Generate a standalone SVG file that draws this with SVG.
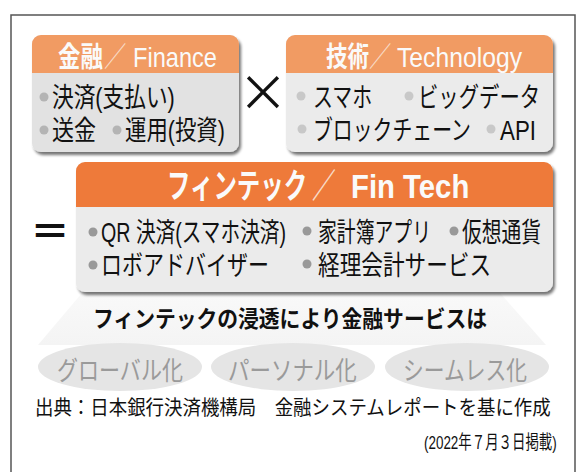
<svg xmlns="http://www.w3.org/2000/svg" width="588" height="472" viewBox="0 0 588 472">
<defs>
<filter id="sh" x="-5%" y="-5%" width="115%" height="120%">
<feGaussianBlur in="SourceAlpha" stdDeviation="1.5"/>
<feOffset dx="2" dy="3" result="b"/>
<feComponentTransfer><feFuncA type="linear" slope="0.55"/></feComponentTransfer>
<feMerge><feMergeNode/><feMergeNode in="SourceGraphic"/></feMerge>
</filter>
<linearGradient id="fan" x1="0" y1="0" x2="0" y2="1">
<stop offset="0" stop-color="#f9f9f9"/>
<stop offset="1" stop-color="#f4f4f4"/>
</linearGradient>
<clipPath id="c1"><rect x="32" y="35" width="207" height="117" rx="9"/></clipPath>
<clipPath id="c2"><rect x="286" y="35" width="267" height="117" rx="9"/></clipPath>
<clipPath id="c3"><rect x="76" y="162" width="477" height="130" rx="9"/></clipPath>
</defs>
<style>
text{font-family:"Liberation Sans","Noto Sans CJK JP",sans-serif;}
.op{font-family:"Noto Sans CJK JP",sans-serif;fill:#111;}
.hd{fill:#fafafa;font-size:28px;}
.hd2{fill:#fafafa;font-size:34px;font-weight:bold;}
.b{font-weight:bold;}
.sl{fill:#f8dcc8;}
.it{fill:#111;font-size:27px;}
.bl1{fill:#b4b4b4;}
.bl2{fill:#c8c8c8;}
.bl3{fill:#999;}
.oval{fill:#e5e5e5;}
.ot{fill:#9a9a9a;font-size:26px;}
</style>
<rect width="588" height="472" fill="#fff"/>
<path d="M11,480 V15 H575 V480" fill="none" stroke="#555" stroke-width="1.5"/>

<g id="connectors">
<polygon points="82,293 500,293 546,345 38,345" fill="url(#fan)"/>
</g>

<g id="finance">
<rect x="32" y="35" width="207" height="117" rx="9" fill="#e2e2e2" filter="url(#sh)"/>
<rect x="32" y="35" width="207" height="38" fill="#f19b63" clip-path="url(#c1)"/>
<text class="hd b" transform="translate(58,67) scale(0.8,1)" textLength="56" lengthAdjust="spacingAndGlyphs">金融</text>
<text class="hd sl" transform="translate(104,67) scale(0.8,1)" textLength="28" lengthAdjust="spacingAndGlyphs">／</text>
<text class="hd" transform="translate(133,67) scale(0.87,1)" textLength="96.5" lengthAdjust="spacingAndGlyphs">Finance</text>
<circle class="bl1" cx="44" cy="97" r="4.5"/>
<text class="it" transform="translate(52,107) scale(0.74,1)" textLength="166" lengthAdjust="spacingAndGlyphs">決済(支払い)</text>
<circle class="bl1" cx="44" cy="130" r="4.5"/>
<text class="it" transform="translate(52,140) scale(0.74,1)" textLength="59.5" lengthAdjust="spacingAndGlyphs">送金</text>
<circle class="bl1" cx="117" cy="130" r="4.5"/>
<text class="it" transform="translate(125,140) scale(0.74,1)" textLength="135" lengthAdjust="spacingAndGlyphs">運用(投資)</text>
</g>

<g id="times">
<text class="op" x="263" y="111" font-size="50" text-anchor="middle">×</text>
</g>

<g id="technology">
<rect x="286" y="35" width="267" height="117" rx="9" fill="#ebebeb" filter="url(#sh)"/>
<rect x="286" y="35" width="267" height="38" fill="#f19b63" clip-path="url(#c2)"/>
<text class="hd b" transform="translate(326,67) scale(0.77,1)" textLength="56" lengthAdjust="spacingAndGlyphs">技術</text>
<text class="hd sl" transform="translate(369,67) scale(0.8,1)" textLength="28" lengthAdjust="spacingAndGlyphs">／</text>
<text class="hd" transform="translate(397,67) scale(0.87,1)" textLength="143.7" lengthAdjust="spacingAndGlyphs">Technology</text>
<circle class="bl2" cx="301" cy="96" r="4.5"/>
<text class="it" transform="translate(313,107) scale(0.74,1)" textLength="80" lengthAdjust="spacingAndGlyphs">スマホ</text>
<circle class="bl2" cx="409" cy="96" r="4.5"/>
<text class="it" transform="translate(418,107) scale(0.74,1)" textLength="165" lengthAdjust="spacingAndGlyphs">ビッグデータ</text>
<circle class="bl2" cx="302" cy="129" r="4.5"/>
<text class="it" transform="translate(313,140) scale(0.74,1)" textLength="213.5" lengthAdjust="spacingAndGlyphs">ブロックチェーン</text>
<circle class="bl2" cx="491" cy="129" r="4.5"/>
<text class="it" transform="translate(500,140) scale(0.74,1)" textLength="48.6" lengthAdjust="spacingAndGlyphs">API</text>
</g>

<g id="equals">
<text class="op" x="50" y="246" font-size="40" font-weight="bold" text-anchor="middle">＝</text>
</g>

<g id="fintech">
<rect x="76" y="162" width="477" height="130" rx="9" fill="#ebebeb" filter="url(#sh)"/>
<rect x="76" y="162" width="477" height="45" fill="#ee7a3a" clip-path="url(#c3)"/>
<text class="hd2" transform="translate(167,198) scale(0.69,1)" textLength="203" lengthAdjust="spacingAndGlyphs">フィンテック</text>
<text class="hd2 sl" font-weight="normal" transform="translate(312,198) scale(0.7,1)" textLength="34" lengthAdjust="spacingAndGlyphs">／</text>
<text class="hd2" transform="translate(351,198) scale(0.91,1)" textLength="130" lengthAdjust="spacingAndGlyphs">Fin Tech</text>
<circle class="bl3" cx="93" cy="232" r="4.5"/>
<text class="it" transform="translate(101,242) scale(0.74,1)" textLength="250" lengthAdjust="spacingAndGlyphs">QR 決済(スマホ決済)</text>
<circle class="bl3" cx="307" cy="231" r="4.5"/>
<text class="it" transform="translate(318,242) scale(0.74,1)" textLength="152.7" lengthAdjust="spacingAndGlyphs">家計簿アプリ</text>
<circle class="bl3" cx="454" cy="231" r="4.5"/>
<text class="it" transform="translate(462,242) scale(0.74,1)" textLength="106.8" lengthAdjust="spacingAndGlyphs">仮想通貨</text>
<circle class="bl3" cx="93" cy="265" r="4.5"/>
<text class="it" transform="translate(101,275) scale(0.74,1)" textLength="227" lengthAdjust="spacingAndGlyphs">ロボアドバイザー</text>
<circle class="bl3" cx="307" cy="264" r="4.5"/>
<text class="it" transform="translate(318,275) scale(0.74,1)" textLength="234" lengthAdjust="spacingAndGlyphs">経理会計サービス</text>
</g>

<g id="caption">
<text font-size="23" font-weight="bold" fill="#111" transform="translate(93,327) scale(0.9,1)" textLength="437.8" lengthAdjust="spacingAndGlyphs">フィンテックの浸透により金融サービスは</text>
</g>

<g id="global">
<ellipse class="oval" cx="120" cy="367" rx="82" ry="24"/>
<text class="ot" transform="translate(57,380) scale(0.81,1)" textLength="155.5" lengthAdjust="spacingAndGlyphs">グローバル化</text>
</g>
<g id="personal">
<ellipse class="oval" cx="293" cy="367" rx="82" ry="24"/>
<text class="ot" transform="translate(228,380) scale(0.81,1)" textLength="159" lengthAdjust="spacingAndGlyphs">パーソナル化</text>
</g>
<g id="seamless">
<ellipse class="oval" cx="467" cy="367" rx="82" ry="24"/>
<text class="ot" transform="translate(403,380) scale(0.81,1)" textLength="153" lengthAdjust="spacingAndGlyphs">シームレス化</text>
</g>

<g id="source">
<text font-size="20" fill="#111" transform="translate(35,415) scale(0.955,1)" textLength="540" lengthAdjust="spacingAndGlyphs">出典：日本銀行決済機構局　金融システムレポートを基に作成</text>
<text font-size="19" fill="#111" transform="translate(424,449) scale(0.71,1)" textLength="187" lengthAdjust="spacingAndGlyphs">(2022年７月３日掲載)</text>
</g>
</svg>
